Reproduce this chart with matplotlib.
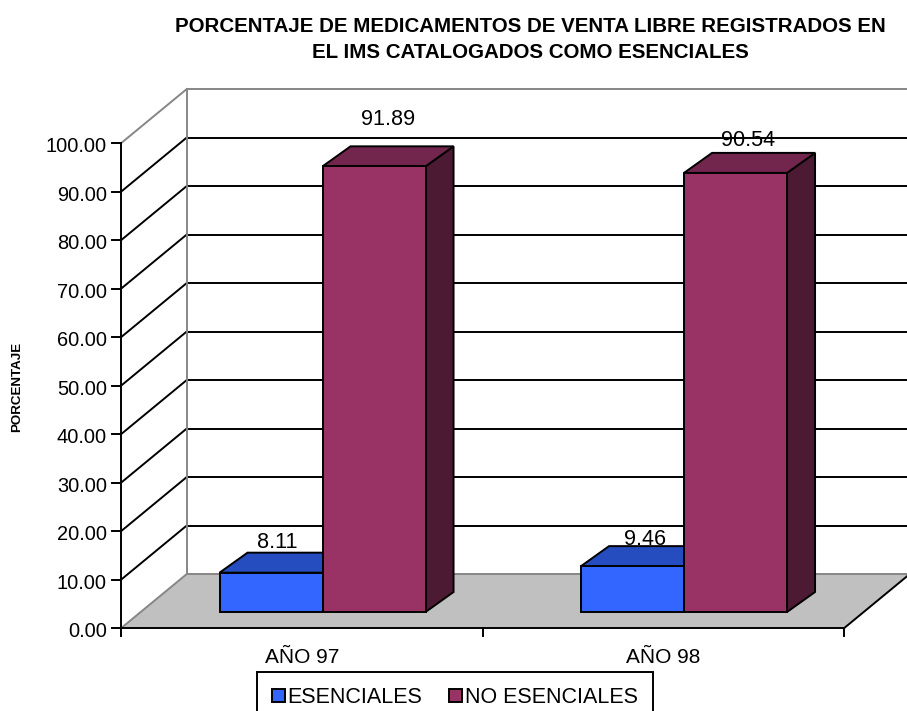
import matplotlib
matplotlib.use("Agg")
import matplotlib.pyplot as plt
from matplotlib.patches import Polygon, Patch

plt.rcParams['font.family'] = ['Liberation Sans', 'DejaVu Sans']

categories = ['AÑO 97', 'AÑO 98']
series_names = ['ESENCIALES', 'NO ESENCIALES']
esenciales = [8.11, 9.46]
no_esenciales = [91.89, 90.54]
y_ticks = [0, 10, 20, 30, 40, 50, 60, 70, 80, 90, 100]
title = 'PORCENTAJE DE MEDICAMENTOS DE VENTA LIBRE REGISTRADOS EN\nEL IMS CATALOGADOS COMO ESENCIALES'
y_label = 'PORCENTAJE'

W, H = 907, 711
PX_X = 361.5      # pixels per category
PX_Y = 4.85       # pixels per percentage point
X0, Y0 = 121.3, 628.0

fig = plt.figure(figsize=(W / 100, H / 100), dpi=100, facecolor='white')
ax = fig.add_axes([0, 0, 1, 1])
ax.set_xlim(-X0 / PX_X, (W - X0) / PX_X)
ax.set_ylim((Y0 - H) / PX_Y, Y0 / PX_Y)
ax.axis('off')

# Oblique depth vectors, in data units
WALL = (65.5 / PX_X, 54 / PX_Y)
BAR_OFF = (20.5 / PX_X, 16 / PX_Y)
BAR_D = (28 / PX_X, 20 / PX_Y)
BAR_W = 103 / PX_X
LW = 1.4
GREY = '#868686'
n = len(categories)

# Floor
ax.add_patch(Polygon([(0, 0), (n, 0), (n + WALL[0], WALL[1]), (WALL[0], WALL[1])],
                     closed=True, fc='#C0C0C0', ec='none', zorder=1))
# Walls and gridlines
for v in y_ticks:
    c = GREY if v in (0, 100) else 'black'
    ax.plot([WALL[0], n + WALL[0] + 0.02], [v + WALL[1]] * 2, color=c, lw=LW, zorder=2)
    ax.plot([0, WALL[0]], [v, v + WALL[1]], color=c, lw=LW, zorder=2)
    ax.plot([-9 / PX_X, 0], [v, v], color='black', lw=LW, zorder=4)
    ax.annotate(f'{v:.2f}', (0, v), xytext=(-10.3, -2.7), textcoords='offset points',
                ha='right', va='center', fontsize=14.4, color='black')
ax.plot([WALL[0], WALL[0]], [WALL[1], 100 + WALL[1]], color=GREY, lw=LW, zorder=2)

# Front axes
ax.plot([0, 0], [-8 / PX_Y, 100], color='black', lw=LW, zorder=4)
ax.plot([0, n], [0, 0], color='black', lw=LW, zorder=4)
ax.plot([n, n + WALL[0]], [0, WALL[1]], color='black', lw=LW, zorder=4)
for i in range(n + 1):
    ax.plot([i, i], [-8 / PX_Y, 0], color='black', lw=LW, zorder=4)
for i, c in enumerate(categories):
    ax.text(i + 0.5, -29.5 / PX_Y, c, ha='center', va='center', fontsize=15)


def bar3d(x, v, front, top, side, z):
    x0 = x + BAR_OFF[0]
    x1 = x0 + BAR_W
    y0 = BAR_OFF[1]
    y1 = y0 + v
    kw = dict(closed=True, ec='black', lw=LW, joinstyle='miter', zorder=z)
    ax.add_patch(Polygon([(x1, y0), (x1 + BAR_D[0], y0 + BAR_D[1]),
                          (x1 + BAR_D[0], y1 + BAR_D[1]), (x1, y1)], fc=side, **kw))
    ax.add_patch(Polygon([(x0, y1), (x1, y1), (x1 + BAR_D[0], y1 + BAR_D[1]),
                          (x0 + BAR_D[0], y1 + BAR_D[1])], fc=top, **kw))
    ax.add_patch(Polygon([(x0, y0), (x1, y0), (x1, y1), (x0, y1)], fc=front, **kw))


BLUE, MAROON = '#3366FF', '#993366'
for i in range(n):
    xc = i + 0.5
    bar3d(xc - BAR_W, esenciales[i], BLUE, '#264DBF', '#1A3380', 5)
    bar3d(xc, no_esenciales[i], MAROON, '#73264D', '#4D1A33', 6)

# Data label offsets from the category centre (pixels converted to points)
lab_dx = {(0, 0): -25, (0, 1): 86, (1, 0): -18, (1, 1): 85}
lab_dy = {(0, 0): 22, (0, 1): 33.5, (1, 0): 19.5, (1, 1): 23.5}
for i in range(n):
    xc = i + 0.5
    ax.annotate(f'{esenciales[i]:.2f}', (xc + lab_dx[(i, 0)] / PX_X, esenciales[i] + BAR_OFF[1]),
                xytext=(0, lab_dy[(i, 0)]), textcoords='offset points',
                ha='center', va='center', fontsize=15.6, zorder=8)
    ax.annotate(f'{no_esenciales[i]:.2f}', (xc + lab_dx[(i, 1)] / PX_X, no_esenciales[i] + BAR_OFF[1]),
                xytext=(0, lab_dy[(i, 1)]), textcoords='offset points',
                ha='center', va='center', fontsize=15.6, zorder=8)

fig.text(530 / W, 1 - 39.5 / H, title, ha='center', va='center', fontsize=14.8,
         fontweight='bold', linespacing=1.5)
fig.text(17.5 / W, 1 - 387 / H, y_label, rotation=90, ha='center', va='center',
         fontsize=9.6, fontweight='bold')

handles = [Patch(fc=BLUE, ec='black', lw=LW), Patch(fc=MAROON, ec='black', lw=LW)]
leg = fig.legend(handles, series_names, ncol=2, loc='center',
                 bbox_to_anchor=(455 / W, 1 - 697.5 / H), fontsize=15.5, frameon=True,
                 fancybox=False, framealpha=1, edgecolor='black',
                 handlelength=0.6, handleheight=0.6, handletextpad=0.14,
                 columnspacing=1.25, borderpad=0.7, borderaxespad=0)
leg.get_frame().set_linewidth(LW)
leg.set_zorder(10)

fig.savefig('out.png', dpi=100)
